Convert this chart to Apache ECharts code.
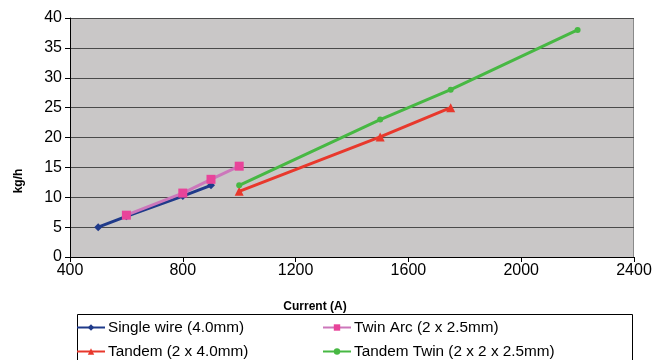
<!DOCTYPE html>
<html>
<head>
<meta charset="UTF-8">
<script src="https://cdn.jsdelivr.net/npm/echarts@6/dist/echarts.min.js"></script>
<style>
html, body { margin: 0; padding: 0; background: #fff; }
#chart { width: 658px; height: 360px; }
</style>
</head>
<body>
<div id="chart"></div>
<script>
// values
const singleWire = [[500, 5], [600, 6.8], [800, 10.2], [900, 12]];
const twinArc = [[600, 7], [800, 10.7], [900, 13], [1000, 15.2]];
const tandem = [[1000, 11], [1500, 20.1], [1750, 25]];
const tandemTwin = [[1000, 12], [1500, 23], [1750, 28], [2200, 38]];
const seriesNames = ['Single wire (4.0mm)', 'Twin Arc (2 x 2.5mm)', 'Tandem (2 x 4.0mm)', 'Tandem Twin (2 x 2 x 2.5mm)'];

const font = 'Liberation Sans, Arial, sans-serif';
const chart = echarts.init(document.getElementById('chart'));

function legendAt(name, left, top) {
  return {
    data: [name], left: left, top: top, itemWidth: 28, itemHeight: 8, itemGap: 0,
    padding: 0, textStyle: { fontFamily: font, fontSize: 15.3, color: '#000', padding: [0, 0, 0, -2] }
  };
}

chart.setOption({
  animation: false,
  backgroundColor: '#fff',
  textStyle: { fontFamily: font },
  grid: { left: 70, right: 24, top: 18, bottom: 103, backgroundColor: '#C9C7C7', show: true, borderWidth: 0 },
  xAxis: {
    type: 'value', min: 400, max: 2400, interval: 400,
    axisLine: { lineStyle: { color: '#000', width: 1 } },
    axisTick: { show: true, length: 5, lineStyle: { color: '#000' } },
    axisLabel: { fontFamily: font, fontSize: 16, color: '#000', margin: 6, formatter: v => String(v) },
    splitLine: { show: false }
  },
  yAxis: {
    type: 'value', min: 0, max: 40, interval: 5,
    axisLine: { show: true, lineStyle: { color: '#000', width: 1 } },
    axisTick: { show: true, length: 5, lineStyle: { color: '#000' } },
    axisLabel: { fontFamily: font, fontSize: 16, color: '#000', margin: 8 },
    splitLine: { show: true, lineStyle: { color: '#4a4a4a', width: 1 } }
  },
  legend: [
    legendAt(seriesNames[0], 76, 320),
    legendAt(seriesNames[1], 322, 320),
    legendAt(seriesNames[2], 76, 344),
    legendAt(seriesNames[3], 322, 344)
  ],
  graphic: [
    { type: 'rect', shape: { x: 77.5, y: 314.5, width: 555, height: 60 }, style: { fill: 'none', stroke: '#000', lineWidth: 1 }, z: -1 },
    { type: 'line', shape: { x1: 633.5, y1: 18, x2: 633.5, y2: 257 }, style: { stroke: '#8a8a8a', lineWidth: 1 } },
    { type: 'text', x: 315, y: 307, style: { text: 'Current (A)', font: 'bold 12px ' + font, fill: '#000', textAlign: 'center', textVerticalAlign: 'middle' } },
    { type: 'text', x: 19, y: 181, rotation: Math.PI / 2, style: { text: 'kg/h', font: 'bold 12px ' + font, fill: '#000', textAlign: 'center', textVerticalAlign: 'middle' } }
  ],
  series: [
    {
      name: seriesNames[0], type: 'line', data: singleWire,
      symbol: 'diamond', symbolSize: 8,
      lineStyle: { color: '#1F3A8A', width: 3 }, itemStyle: { color: '#1F3A8A' }
    },
    {
      name: seriesNames[1], type: 'line', data: twinArc,
      symbol: 'rect', symbolSize: 9,
      lineStyle: { color: '#CC77BB', width: 3 }, itemStyle: { color: '#E8449A' }
    },
    {
      name: seriesNames[2], type: 'line', data: tandem,
      symbol: 'triangle', symbolSize: 9,
      lineStyle: { color: '#E8382C', width: 3 }, itemStyle: { color: '#E8382C' }
    },
    {
      name: seriesNames[3], type: 'line', data: tandemTwin,
      symbol: 'circle', symbolSize: 6,
      lineStyle: { color: '#47B843', width: 3 }, itemStyle: { color: '#47B843' }
    }
  ]
});
</script>
</body>
</html>
